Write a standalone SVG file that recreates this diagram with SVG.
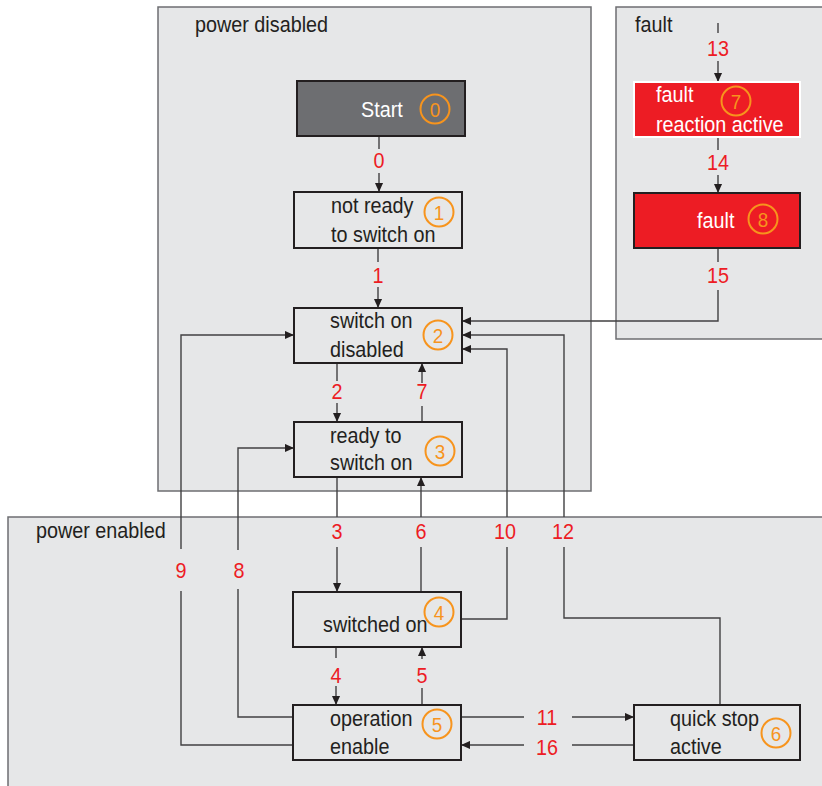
<svg xmlns="http://www.w3.org/2000/svg" width="822" height="786" viewBox="0 0 822 786">
<style>
.area{fill:#e6e7e8;stroke:#6d6e71;stroke-width:1.5}
.node{fill:#e6e7e8;stroke:#231f20;stroke-width:2}
.t{font-family:"Liberation Sans",Arial,sans-serif;font-size:22px;fill:#231f20}
.w{fill:#ffffff}
.lbl{font-family:"Liberation Sans",Arial,sans-serif;font-size:22px;fill:#ed1c24;text-anchor:middle}
.num{font-family:"Liberation Sans",Arial,sans-serif;font-size:21px;fill:#f7941d;text-anchor:middle}
.circ{fill:none;stroke:#f7941d;stroke-width:2}
.c{fill:none;stroke:#414042;stroke-width:1.4}
.ca{fill:none;stroke:#414042;stroke-width:1.4;marker-end:url(#ah)}
</style>
<defs>
<marker id="ah" viewBox="0 0 10 10" refX="10" refY="5" markerWidth="9" markerHeight="9" markerUnits="userSpaceOnUse" orient="auto">
<path d="M0,0.5 L10,5 L0,9.5 z" fill="#231f20"/>
</marker>
</defs>
<rect width="822" height="786" fill="#ffffff"/>
<g id="area-power-disabled">
<rect class="area" x="158" y="7" width="433" height="484"/>
<text class="t" transform="translate(195 32) scale(0.9 1)">power disabled</text>
</g>
<g id="area-fault">
<rect class="area" x="616" y="7" width="220" height="332"/>
<text class="t" transform="translate(635 32) scale(0.9 1)">fault</text>
</g>
<g id="area-power-enabled">
<rect class="area" x="8" y="517" width="830" height="290"/>
<text class="t" transform="translate(36 538) scale(0.9 1)">power enabled</text>
</g>
<g id="connectors">
<line class="c" x1="379" y1="136" x2="379" y2="149"/>
<line class="ca" x1="379" y1="173" x2="379" y2="192"/>
<text class="lbl" transform="translate(379 168) scale(0.9 1)">0</text>
<line class="c" x1="378" y1="248" x2="378" y2="262"/>
<line class="ca" x1="378" y1="287" x2="378" y2="308"/>
<text class="lbl" transform="translate(378 283) scale(0.9 1)">1</text>
<line class="c" x1="337" y1="363" x2="337" y2="381"/>
<line class="ca" x1="337" y1="403" x2="337" y2="422"/>
<text class="lbl" transform="translate(337 399) scale(0.9 1)">2</text>
<line class="c" x1="422" y1="422" x2="422" y2="406"/>
<line class="ca" x1="422" y1="383" x2="422" y2="363"/>
<text class="lbl" transform="translate(422 399) scale(0.9 1)">7</text>
<line class="c" x1="337" y1="477" x2="337" y2="517"/>
<line class="ca" x1="337" y1="547" x2="337" y2="592"/>
<text class="lbl" transform="translate(337 539) scale(0.9 1)">3</text>
<line class="c" x1="421" y1="592" x2="421" y2="547"/>
<line class="ca" x1="421" y1="517" x2="421" y2="477"/>
<text class="lbl" transform="translate(421 539) scale(0.9 1)">6</text>
<polyline class="c" points="461,619 507,619 507,547"/>
<polyline class="ca" points="507,517 507,349 462,349"/>
<text class="lbl" transform="translate(505 539) scale(0.9 1)">10</text>
<polyline class="c" points="720,705 720,618 564,618 564,547"/>
<polyline class="ca" points="564,517 564,335 462,335"/>
<text class="lbl" transform="translate(563 539) scale(0.9 1)">12</text>
<polyline class="c" points="293,745 181,745 181,591"/>
<polyline class="ca" points="181,549 181,335 294,335"/>
<text class="lbl" transform="translate(181 578) scale(0.9 1)">9</text>
<polyline class="c" points="293,717 238,717 238,589"/>
<polyline class="ca" points="238,550 238,448 294,448"/>
<text class="lbl" transform="translate(239 578) scale(0.9 1)">8</text>
<line class="c" x1="336" y1="647" x2="336" y2="658"/>
<line class="ca" x1="336" y1="686" x2="336" y2="705"/>
<text class="lbl" transform="translate(336 683) scale(0.9 1)">4</text>
<line class="c" x1="422" y1="705" x2="422" y2="688"/>
<line class="ca" x1="422" y1="659" x2="422" y2="647"/>
<text class="lbl" transform="translate(422 683) scale(0.9 1)">5</text>
<line class="c" x1="461" y1="717" x2="524" y2="717"/>
<line class="ca" x1="572" y1="717" x2="634" y2="717"/>
<text class="lbl" transform="translate(547 725) scale(0.9 1)">11</text>
<line class="c" x1="634" y1="745" x2="572" y2="745"/>
<line class="ca" x1="524" y1="745" x2="461" y2="745"/>
<text class="lbl" transform="translate(547 755) scale(0.9 1)">16</text>
<line class="c" x1="718" y1="23" x2="718" y2="33"/>
<line class="ca" x1="718" y1="61" x2="718" y2="82"/>
<text class="lbl" transform="translate(718 56) scale(0.9 1)">13</text>
<line class="c" x1="718" y1="137" x2="718" y2="150"/>
<line class="ca" x1="718" y1="175" x2="718" y2="193"/>
<text class="lbl" transform="translate(718 170) scale(0.9 1)">14</text>
<line class="c" x1="718" y1="248" x2="718" y2="262"/>
<polyline class="ca" points="718,290 718,321 462,321"/>
<text class="lbl" transform="translate(718 283) scale(0.9 1)">15</text>
</g>
<g id="node-0">
<rect x="297" y="81" width="168" height="55" fill="#6d6e71" stroke="#231f20" stroke-width="2"/>
<text class="t w" transform="translate(361 117) scale(0.9 1)">Start</text>
<circle class="circ" cx="435" cy="109" r="14.5"/>
<text class="num" transform="translate(435 116.5) scale(0.9 1)">0</text>
</g>
<g id="node-1">
<rect class="node" x="294" y="192" width="168" height="56"/>
<text class="t" transform="translate(331 213) scale(0.9 1)">not ready</text>
<text class="t" transform="translate(331 242) scale(0.9 1)">to switch on</text>
<circle class="circ" cx="439" cy="212" r="14.5"/>
<text class="num" transform="translate(439 219.5) scale(0.9 1)">1</text>
</g>
<g id="node-2">
<rect class="node" x="294" y="308" width="168" height="55"/>
<text class="t" transform="translate(330 328) scale(0.9 1)">switch on</text>
<text class="t" transform="translate(330 357) scale(0.9 1)">disabled</text>
<circle class="circ" cx="438" cy="335" r="14.5"/>
<text class="num" transform="translate(438 342.5) scale(0.9 1)">2</text>
</g>
<g id="node-3">
<rect class="node" x="294" y="422" width="168" height="55"/>
<text class="t" transform="translate(330 443) scale(0.9 1)">ready to</text>
<text class="t" transform="translate(330 470) scale(0.9 1)">switch on</text>
<circle class="circ" cx="440" cy="451" r="14.5"/>
<text class="num" transform="translate(440 458.5) scale(0.9 1)">3</text>
</g>
<g id="node-4">
<rect class="node" x="293" y="592" width="168" height="55"/>
<text class="t" transform="translate(323 632) scale(0.9 1)">switched on</text>
<circle class="circ" cx="439" cy="612" r="14.5"/>
<text class="num" transform="translate(439 619.5) scale(0.9 1)">4</text>
</g>
<g id="node-5">
<rect class="node" x="293" y="705" width="168" height="55"/>
<text class="t" transform="translate(330 726) scale(0.9 1)">operation</text>
<text class="t" transform="translate(330 754) scale(0.9 1)">enable</text>
<circle class="circ" cx="437" cy="724" r="14.5"/>
<text class="num" transform="translate(437 731.5) scale(0.9 1)">5</text>
</g>
<g id="node-6">
<rect class="node" x="634" y="705" width="166" height="55"/>
<text class="t" transform="translate(670 726) scale(0.9 1)">quick stop</text>
<text class="t" transform="translate(670 754) scale(0.9 1)">active</text>
<circle class="circ" cx="776" cy="733" r="14.5"/>
<text class="num" transform="translate(776 740.5) scale(0.9 1)">6</text>
</g>
<g id="node-7">
<rect x="634" y="82" width="166" height="55" fill="#ed1c24" stroke="#ffffff" stroke-width="2"/>
<text class="t w" transform="translate(656 102) scale(0.9 1)">fault</text>
<text class="t w" transform="translate(656 132) scale(0.9 1)">reaction active</text>
<circle class="circ" cx="736" cy="101" r="14.5"/>
<text class="num" transform="translate(736 108.5) scale(0.9 1)">7</text>
</g>
<g id="node-8">
<rect x="634" y="193" width="166" height="55" fill="#ed1c24" stroke="#231f20" stroke-width="2"/>
<text class="t w" transform="translate(697 228) scale(0.9 1)">fault</text>
<circle class="circ" cx="763" cy="219" r="14.5"/>
<text class="num" transform="translate(763 226.5) scale(0.9 1)">8</text>
</g>
</svg>
